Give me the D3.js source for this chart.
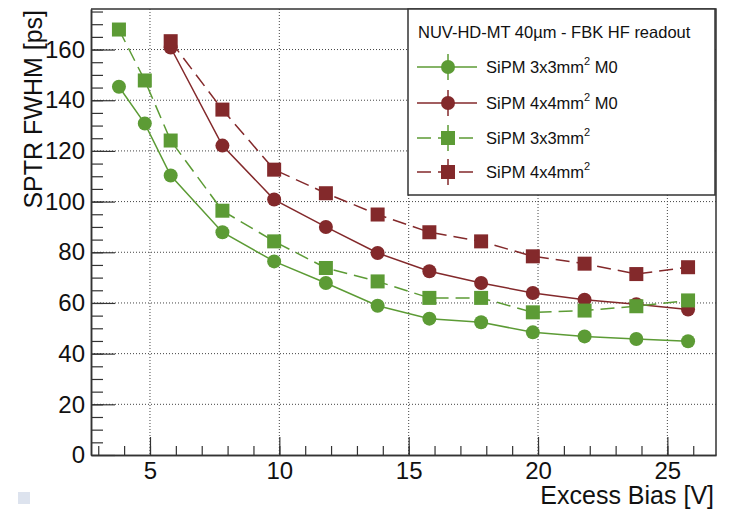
<!DOCTYPE html>
<html>
<head>
<meta charset="utf-8">
<script src="https://cdn.jsdelivr.net/npm/d3@7"></script>
<style>
  body { margin: 0; background: #fff; }
  svg { font-family: "Liberation Sans", Arial, sans-serif; }
</style>
</head>
<body>
<div id="chart"></div>
<script>
// excess bias values (V)
var biasGreen = [3.8, 4.8, 5.8, 7.8, 9.8, 11.8, 13.8, 15.8, 17.8, 19.8, 21.8, 23.8, 25.8];
var biasRed = [5.8, 7.8, 9.8, 11.8, 13.8, 15.8, 17.8, 19.8, 21.8, 23.8, 25.8];

// SPTR FWHM (ps)
var sptr3x3M0 = [145.3, 130.8, 110.3, 87.9, 76.4, 67.9, 58.9, 53.8, 52.4, 48.4, 46.8, 45.8, 44.9];
var sptr4x4M0 = [160.8, 122.1, 100.8, 90.0, 79.7, 72.5, 67.9, 63.9, 61.3, 59.5, 57.4];
var sptr3x3 = [167.9, 147.8, 124.1, 96.4, 84.3, 73.8, 68.5, 62.0, 62.0, 56.3, 57.0, 58.7, 61.0];
var sptr4x4 = [163.3, 136.3, 112.6, 103.3, 94.9, 87.9, 84.3, 78.4, 75.5, 71.4, 74.1];

var xTicks = [5, 10, 15, 20, 25];
var yTicks = [0, 20, 40, 60, 80, 100, 120, 140, 160];

var legendTitle = "NUV-HD-MT 40\u00b5m - FBK HF readout";

var green = "#5c9b35";
var red = "#83292b";
var frameColor = "#333";

var series = [
    {name: "SiPM 3x3mm", after: "M0", x: biasGreen, y: sptr3x3M0, color: green, shape: "circle", dash: null},
    {name: "SiPM 4x4mm", after: "M0", x: biasRed, y: sptr4x4M0, color: red, shape: "circle", dash: null},
    {name: "SiPM 3x3mm", after: "", x: biasGreen, y: sptr3x3, color: green, shape: "square", dash: "14,7"},
    {name: "SiPM 4x4mm", after: "", x: biasRed, y: sptr4x4, color: red, shape: "square", dash: "14,7"}
];

var svgWidth = 740;
var svgHeight = 510;
var plotLeft = 91, plotRight = 716, plotTop = 9, plotBottom = 455;

var svg = d3.select("#chart")
    .append("svg")
    .attr("width", svgWidth)
    .attr("height", svgHeight);

var x = d3.scaleLinear().domain([2.72, 26.88]).range([plotLeft, plotRight]);
var y = d3.scaleLinear().domain([0, 176]).range([plotBottom, plotTop]);

// dotted grid
svg.append("g").selectAll("line")
    .data(xTicks)
    .enter()
    .append("line")
    .attr("x1", function(d) { return x(d); })
    .attr("x2", function(d) { return x(d); })
    .attr("y1", plotTop)
    .attr("y2", plotBottom)
    .attr("stroke", "#444")
    .attr("stroke-width", 1)
    .attr("stroke-dasharray", "1,2");

svg.append("g").selectAll("line")
    .data(yTicks.filter(function(d) { return d > 0; }))
    .enter()
    .append("line")
    .attr("x1", plotLeft)
    .attr("x2", plotRight)
    .attr("y1", function(d) { return y(d); })
    .attr("y2", function(d) { return y(d); })
    .attr("stroke", "#444")
    .attr("stroke-width", 1)
    .attr("stroke-dasharray", "1,2");

// axes with ROOT-like inner ticks
var xAxis = d3.axisBottom(x).tickValues(xTicks).tickSizeInner(-18).tickSizeOuter(0).tickPadding(7);
var xMinor = d3.axisBottom(x).tickValues(d3.range(3, 27, 1)).tickSizeInner(-9).tickSizeOuter(0).tickFormat("");
var yAxis = d3.axisLeft(y).tickValues(yTicks).tickSizeInner(-24).tickSizeOuter(0).tickPadding(6);
var yMinor = d3.axisLeft(y).tickValues(d3.range(5, 176, 5)).tickSizeInner(-12).tickSizeOuter(0).tickFormat("");

function styleAxis(g) {
    g.select(".domain").attr("stroke", frameColor).attr("stroke-width", 1.5);
    g.selectAll(".tick line").attr("stroke", frameColor).attr("stroke-width", 1.2);
    g.selectAll(".tick text").attr("fill", "#111").style("font-size", "24px").style("font-family", "Liberation Sans, Arial, sans-serif");
}

svg.append("g").attr("transform", "translate(0," + plotBottom + ")").call(xMinor).call(styleAxis);
svg.append("g").attr("transform", "translate(0," + plotBottom + ")").call(xAxis).call(styleAxis);
svg.append("g").attr("transform", "translate(" + plotLeft + ",0)").call(yMinor).call(styleAxis);
svg.append("g").attr("transform", "translate(" + plotLeft + ",0)").call(yAxis).call(styleAxis);

// top and right frame
svg.append("path")
    .attr("d", "M" + plotLeft + "," + plotTop + "H" + plotRight + "V" + plotBottom)
    .attr("fill", "none")
    .attr("stroke", frameColor)
    .attr("stroke-width", 1.5);

// axis titles
svg.append("text")
    .attr("x", plotRight - 2)
    .attr("y", 504)
    .attr("text-anchor", "end")
    .style("font-size", "25px")
    .attr("fill", "#111")
    .text("Excess Bias [V]");

svg.append("text")
    .attr("transform", "translate(42," + (plotTop + 1) + ") rotate(-90)")
    .attr("text-anchor", "end")
    .style("font-size", "25px")
    .attr("fill", "#111")
    .text("SPTR FWHM [ps]");

// connecting lines
var line = d3.line()
    .x(function(d) { return x(d[0]); })
    .y(function(d) { return y(d[1]); });

series.forEach(function(s) {
    var pts = d3.zip(s.x, s.y);
    svg.append("path")
        .datum(pts)
        .attr("d", line)
        .attr("fill", "none")
        .attr("stroke", s.color)
        .attr("stroke-width", 1.5)
        .attr("stroke-dasharray", s.dash);
});

// markers
series.forEach(function(s) {
    var pts = d3.zip(s.x, s.y);
    var g = svg.append("g");
    if (s.shape == "circle") {
        g.selectAll("circle")
            .data(pts)
            .enter()
            .append("circle")
            .attr("cx", function(d) { return x(d[0]); })
            .attr("cy", function(d) { return y(d[1]); })
            .attr("r", 7)
            .attr("fill", s.color);
    } else {
        g.selectAll("rect")
            .data(pts)
            .enter()
            .append("rect")
            .attr("x", function(d) { return x(d[0]) - 7; })
            .attr("y", function(d) { return y(d[1]) - 7; })
            .attr("width", 14)
            .attr("height", 14)
            .attr("fill", s.color);
    }
});

// legend
var legend = svg.append("g");
legend.append("rect")
    .attr("x", 408)
    .attr("y", 9)
    .attr("width", 307)
    .attr("height", 186)
    .attr("fill", "#fff")
    .attr("stroke", frameColor)
    .attr("stroke-width", 1.5);

legend.append("text")
    .attr("x", 418)
    .attr("y", 38)
    .style("font-size", "16.5px")
    .attr("fill", "#111")
    .text(legendTitle);

var rowY = [67, 103, 138, 172];

series.forEach(function(s, i) {
    var cy = rowY[i];
    var row = legend.append("g");
    row.append("line")
        .attr("x1", 417).attr("x2", 477)
        .attr("y1", cy).attr("y2", cy)
        .attr("stroke", s.color)
        .attr("stroke-width", 1.5)
        .attr("stroke-dasharray", s.dash);
    row.append("line")
        .attr("x1", 448).attr("x2", 448)
        .attr("y1", cy - 13).attr("y2", cy + 13)
        .attr("stroke", s.color)
        .attr("stroke-width", 1.5);
    if (s.shape == "circle") {
        row.append("circle").attr("cx", 448).attr("cy", cy).attr("r", 7).attr("fill", s.color);
    } else {
        row.append("rect").attr("x", 441).attr("y", cy - 7).attr("width", 14).attr("height", 14).attr("fill", s.color);
    }
    var t = row.append("text")
        .attr("x", 486)
        .attr("y", cy + 6)
        .style("font-size", "16.5px")
        .attr("fill", "#111");
    t.append("tspan").text(s.name);
    t.append("tspan").attr("dy", -8).style("font-size", "11px").text("2");
    if (s.after) {
        t.append("tspan").attr("dy", 8).text("\u00a0" + s.after);
    }
});

// small square in the corner
svg.append("rect")
    .attr("x", 18)
    .attr("y", 492)
    .attr("width", 12)
    .attr("height", 12)
    .attr("fill", "#dde3ee");
</script>
</body>
</html>
